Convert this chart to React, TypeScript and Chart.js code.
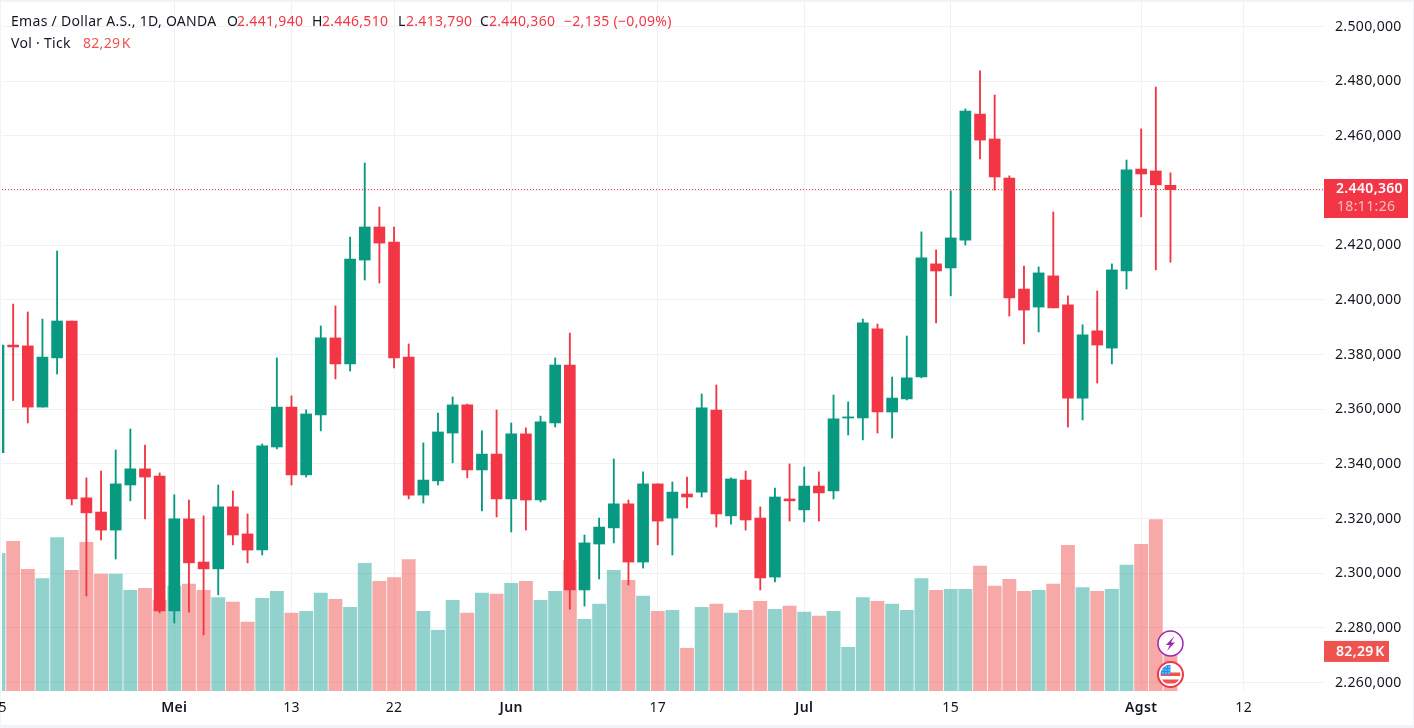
import { useEffect, useRef } from 'react';
import Chart from 'chart.js/auto';

const UP = '#089981';
const DOWN = '#F23645';
const UP_VOL = 'rgba(38,166,154,0.5)';
const DOWN_VOL = 'rgba(239,83,80,0.5)';
const GRID = '#f1f1f4';
const FRAME = '#f0f3fa';
const TEXT = '#131722';
const FONT = '"Noto Sans", sans-serif';

// daily candles, 15 Apr to 5 Aug (trading days only)
const opens = [
  2344.1, 2383.5, 2383.2, 2360.8, 2378.8, 2392.3, 2327.6, 2322.4, 2315.8, 2332.3, 2338.2, 2335.6,
  2286.2, 2319.9, 2304.1, 2301.6, 2324.3, 2314.4, 2308.5, 2346.2, 2360.8, 2336.0, 2357.9, 2386.1,
  2376.6, 2414.6, 2426.7, 2421.2, 2379.1, 2328.6, 2333.8, 2351.3, 2361.6, 2337.8, 2343.6, 2327.2,
  2351.0, 2326.8, 2355.0, 2376.2, 2293.9, 2310.7, 2316.6, 2325.4, 2304.1, 2332.7, 2320.2, 2329.0,
  2329.7, 2359.7, 2321.0, 2334.1, 2320.2, 2298.6, 2327.2, 2323.2, 2331.9, 2330.1, 2356.8, 2356.8,
  2389.4, 2359.0, 2363.8, 2371.8, 2413.2, 2411.7, 2421.9, 2468.0, 2458.9, 2444.6, 2404.0, 2397.4,
  2408.8, 2398.2, 2364.1, 2388.7, 2382.4, 2410.6, 2447.9, 2447.2, 2441.94,
];
const highs = [
  2384.0, 2398.5, 2395.6, 2393.0, 2417.9, 2392.3, 2334.9, 2337.4, 2345.1, 2352.8, 2346.9, 2336.7,
  2328.7, 2326.8, 2321.0, 2332.3, 2330.1, 2321.7, 2347.3, 2378.8, 2364.9, 2359.8, 2390.5, 2397.8,
  2423.0, 2450.1, 2434.0, 2426.7, 2383.9, 2347.7, 2358.6, 2364.5, 2361.9, 2352.1, 2359.7, 2355.0,
  2353.2, 2357.5, 2378.8, 2387.9, 2314.0, 2320.2, 2341.8, 2326.8, 2337.1, 2332.7, 2333.4, 2335.2,
  2365.6, 2368.9, 2334.9, 2337.4, 2324.3, 2331.2, 2340.0, 2338.9, 2337.1, 2365.2, 2362.7, 2393.0,
  2391.2, 2371.8, 2386.8, 2424.9, 2418.3, 2439.9, 2469.9, 2483.8, 2475.0, 2445.4, 2412.4, 2412.1,
  2432.2, 2401.5, 2390.9, 2403.3, 2413.2, 2451.2, 2462.6, 2477.9, 2446.51,
];
const lows = [
  2344.1, 2363.2, 2355.0, 2360.8, 2372.9, 2325.0, 2291.7, 2312.2, 2305.2, 2326.5, 2319.9, 2285.5,
  2281.8, 2285.8, 2277.4, 2292.1, 2310.4, 2303.8, 2306.7, 2345.5, 2332.3, 2335.2, 2352.1, 2371.1,
  2374.0, 2407.3, 2406.2, 2375.1, 2327.2, 2325.7, 2332.3, 2340.4, 2334.9, 2322.8, 2320.6, 2315.1,
  2315.8, 2326.1, 2353.5, 2286.9, 2288.0, 2297.9, 2311.1, 2295.7, 2301.9, 2310.4, 2306.7, 2323.9,
  2327.9, 2316.9, 2318.0, 2315.8, 2293.9, 2296.8, 2319.1, 2318.8, 2319.1, 2327.2, 2350.6, 2348.8,
  2351.3, 2349.5, 2363.4, 2371.5, 2391.6, 2401.5, 2420.1, 2451.6, 2440.2, 2394.1, 2383.9, 2388.3,
  2397.1, 2353.5, 2356.1, 2369.6, 2376.6, 2404.0, 2430.4, 2411.0, 2413.79,
];
const closes = [
  2383.5, 2382.8, 2360.8, 2379.1, 2392.3, 2327.2, 2322.1, 2315.8, 2332.7, 2338.2, 2335.2, 2286.2,
  2319.9, 2303.8, 2301.6, 2324.3, 2314.0, 2308.5, 2346.6, 2360.8, 2336.0, 2358.3, 2386.1, 2376.6,
  2415.0, 2426.7, 2420.8, 2378.8, 2328.6, 2334.1, 2351.7, 2361.6, 2337.8, 2343.6, 2327.2, 2351.0,
  2326.8, 2355.4, 2376.2, 2293.9, 2311.1, 2316.9, 2325.4, 2304.1, 2332.7, 2319.1, 2329.7, 2327.9,
  2360.5, 2321.7, 2334.5, 2319.5, 2298.3, 2327.9, 2326.5, 2331.9, 2329.4, 2356.5, 2357.2, 2391.6,
  2359.0, 2364.1, 2371.5, 2415.4, 2410.6, 2422.7, 2469.1, 2458.5, 2445.0, 2400.7, 2396.3, 2409.9,
  2397.1, 2364.1, 2387.2, 2383.5, 2411.0, 2447.6, 2446.1, 2442.1, 2440.36,
];
// tick volume in thousands
const volumes = [
  290, 315, 256, 237, 323, 254, 313, 246, 246, 212, 216, 191, 221, 225, 212, 197, 187, 145, 195, 210,
  164, 168, 206, 193, 176, 269, 231, 239, 277, 168, 128, 191, 164, 206, 204, 227, 231, 191, 210, 275,
  151, 183, 254, 233, 200, 168, 170, 90, 176, 183, 164, 170, 189, 172, 179, 166, 158, 168, 92, 197,
  189, 183, 170, 237, 212, 214, 214, 263, 221, 235, 210, 212, 225, 307, 218, 210, 214, 265, 309, 361,
  82.29,
];

const dateTicks = [0, 12, 20, 27, 35, 45, 55, 65, 78, 85];
const dateLabels = ['15', 'Mei', '13', '22', 'Jun', '17', 'Jul', '15', 'Agst', '12'];
const monthTicks = [12, 35, 55, 78];
const priceTicks = [2260, 2280, 2300, 2320, 2340, 2360, 2380, 2400, 2420, 2440, 2460, 2480, 2500];
const priceLabels = [
  '2.260,000', '2.280,000', '2.300,000', '2.320,000', '2.340,000', '2.360,000', '2.380,000',
  '2.400,000', '2.420,000', '2.440,000', '2.460,000', '2.480,000', '2.500,000',
];

const lastClose = 2440.36;
const lastVolume = 82.29;

const headerLine1 = [
  { text: 'Emas / Dollar A.S., 1D, OANDA', left: 11, color: TEXT },
  { text: 'O', left: 227, color: TEXT },
  { text: '2.441,940', left: 237, color: DOWN },
  { text: 'H', left: 312, color: TEXT },
  { text: '2.446,510', left: 322, color: DOWN },
  { text: 'L', left: 398, color: TEXT },
  { text: '2.413,790', left: 406, color: DOWN },
  { text: 'C', left: 480, color: TEXT },
  { text: '2.440,360', left: 489, color: DOWN },
  { text: '−2,135 (−0,09%)', left: 564, color: DOWN },
];
const headerLine2 = [
  { text: 'Vol · Tick', left: 11, color: TEXT },
  { text: '82,29 K', left: 83, color: '#EF5350', tight: true },
];

const upOrDown = (i: number, a: string, b: string) => (closes[i] >= opens[i] ? a : b);

const overlays = {
  id: 'overlays',
  beforeDraw(chart: any) {
    chart.ctx.letterSpacing = '0.35px';
  },
  afterDraw(chart: any) {
    const { ctx, chartArea, scales } = chart;
    const y = scales.y.getPixelForValue(lastClose);
    const volY = scales.vol.getPixelForValue(lastVolume);
    const right = chartArea.right;

    ctx.save();
    // last price line
    ctx.strokeStyle = DOWN;
    ctx.lineWidth = 1;
    ctx.setLineDash([1, 2]);
    ctx.beginPath();
    ctx.moveTo(chartArea.left, Math.floor(y) + 0.5);
    ctx.lineTo(right, Math.floor(y) + 0.5);
    ctx.stroke();
    ctx.setLineDash([]);

    // axis labels
    ctx.fillStyle = DOWN;
    ctx.fillRect(right, 179, 84, 39);
    ctx.fillStyle = '#EF5350';
    ctx.fillRect(right, volY - 11, 65, 21);
    ctx.textBaseline = 'middle';
    ctx.textAlign = 'left';
    ctx.font = `600 14px ${FONT}`;
    ctx.fillStyle = '#ffffff';
    ctx.fillText('2.440,360', right + 12, 189);
    ctx.wordSpacing = '-2.5px';
    ctx.fillText('82,29 K', right + 12, volY);
    ctx.wordSpacing = '0px';
    ctx.font = `400 14px ${FONT}`;
    ctx.fillStyle = 'rgba(255,255,255,0.65)';
    ctx.fillText('18:11:26', right + 13, 207);

    // event markers under the last candle
    const cx = scales.x.getPixelForValue(80);
    ctx.lineWidth = 1.5;
    ctx.fillStyle = '#ffffff';
    ctx.strokeStyle = '#9C27B0';
    ctx.beginPath();
    ctx.arc(cx, 643.5, 12.5, 0, Math.PI * 2);
    ctx.fill();
    ctx.stroke();
    ctx.fillStyle = '#9C27B0';
    ctx.beginPath();
    ctx.moveTo(cx + 4, 636);
    ctx.lineTo(cx - 4.5, 645);
    ctx.lineTo(cx - 0.5, 645);
    ctx.lineTo(cx - 3.5, 651);
    ctx.lineTo(cx + 4.5, 642.5);
    ctx.lineTo(cx + 0.5, 642.5);
    ctx.closePath();
    ctx.fill();

    const fy = 674.5;
    ctx.lineWidth = 2;
    ctx.fillStyle = '#ffffff';
    ctx.strokeStyle = DOWN;
    ctx.beginPath();
    ctx.arc(cx, fy, 12.5, 0, Math.PI * 2);
    ctx.fill();
    ctx.stroke();
    ctx.save();
    ctx.beginPath();
    ctx.arc(cx, fy, 10, 0, Math.PI * 2);
    ctx.clip();
    ctx.fillStyle = '#EF5350';
    ctx.fillRect(cx - 10, fy - 2, 20, 3.5);
    ctx.fillRect(cx - 10, fy + 5, 20, 4);
    ctx.fillStyle = '#2196F3';
    ctx.fillRect(cx - 10, fy - 10, 10, 10);
    ctx.fillStyle = '#ffffff';
    for (let a = 0; a < 3; a++) {
      for (let b = 0; b < 3; b++) {
        ctx.fillRect(cx - 8 + a * 3, fy - 8 + b * 3, 1, 1);
      }
    }
    ctx.restore();
    ctx.restore();
  },
};

const App = () => {
  const canvasRef = useRef<HTMLCanvasElement | null>(null);

  useEffect(() => {
    if (!canvasRef.current) return;
    document.body.style.margin = '0';

    const idx = closes.map((_, i) => i);
    const upDownColors = idx.map((i) => upOrDown(i, UP, DOWN));

    const chart = new Chart(canvasRef.current, {
      type: 'bar',
      data: {
        datasets: [
          {
            label: 'Body',
            data: idx.map((i) => ({ x: i, y: [opens[i], closes[i]] })),
            backgroundColor: upDownColors,
            barThickness: 11,
            grouped: false,
            yAxisID: 'y',
            order: 1,
          },
          {
            label: 'Wick',
            data: idx.map((i) => ({ x: i, y: [lows[i], highs[i]] })),
            backgroundColor: upDownColors,
            barThickness: 1.2,
            grouped: false,
            yAxisID: 'y',
            order: 2,
          },
          {
            label: 'Vol',
            data: idx.map((i) => ({ x: i, y: volumes[i] })),
            backgroundColor: idx.map((i) => upOrDown(i, UP_VOL, DOWN_VOL)),
            barThickness: 13.2,
            grouped: false,
            yAxisID: 'vol',
            order: 3,
          },
        ] as any,
      },
      options: {
        animation: false,
        responsive: false,
        events: [],
        layout: { padding: { left: 2, top: 2, right: 0, bottom: 3 } },
        plugins: { legend: { display: false }, tooltip: { enabled: false } },
        scales: {
          x: {
            type: 'linear',
            offset: false,
            min: 0.2389,
            max: 90.48,
            grid: { color: GRID, drawTicks: false, offset: false },
            border: { display: false },
            afterBuildTicks: (scale: any) => {
              scale.ticks = dateTicks.map((value) => ({ value }));
            },
            afterFit: (scale: any) => {
              scale.height = 34;
              scale.paddingLeft = 0;
              scale.paddingRight = 0;
            },
            ticks: {
              autoSkip: false,
              maxRotation: 0,
              padding: 9,
              color: TEXT,
              font: (c: any) => ({
                family: FONT,
                size: 14,
                weight: monthTicks.includes(c.tick?.value) ? 600 : 400,
              }),
              callback: (v: any) => dateLabels[dateTicks.indexOf(v)],
            },
          },
          y: {
            position: 'right',
            min: 2256.92,
            max: 2509.02,
            grid: { color: GRID, drawTicks: false },
            border: { display: false },
            afterBuildTicks: (scale: any) => {
              scale.ticks = priceTicks.map((value) => ({ value }));
            },
            afterFit: (scale: any) => {
              scale.width = 90;
              scale.paddingTop = 0;
              scale.paddingBottom = 0;
            },
            ticks: {
              autoSkip: false,
              padding: 11,
              color: TEXT,
              font: { family: FONT, size: 14 },
              callback: (v: any) => priceLabels[priceTicks.indexOf(v)],
            },
          },
          vol: { display: false, min: 0, max: 1451 },
        },
      } as any,
      plugins: [overlays],
    });

    return () => {
      chart.destroy();
    };
  }, []);

  const spanStyle = (left: number, top: number, color: string, tight?: boolean) => ({
    position: 'absolute' as const,
    left,
    top,
    color,
    lineHeight: '20px',
    letterSpacing: '0.3px',
    wordSpacing: tight ? '-2.5px' : undefined,
    whiteSpace: 'nowrap' as const,
  });

  return (
    <div style={{ position: 'fixed', left: 0, top: 0, width: 1414, height: 728, background: FRAME, overflow: 'hidden', fontFamily: FONT, fontSize: 14 }}>
      <div style={{ position: 'absolute', left: 1, top: 2, width: 1412, height: 723, background: '#fff' }} />
      <canvas ref={canvasRef} width={1414} height={728} style={{ position: 'absolute', left: 0, top: 0 }} />
      {headerLine1.map((h) => (
        <span key={h.left} style={spanStyle(h.left, 11, h.color)}>{h.text}</span>
      ))}
      {headerLine2.map((h) => (
        <span key={h.left} style={spanStyle(h.left, 33, h.color, h.tight)}>{h.text}</span>
      ))}
    </div>
  );
};

export default App;
